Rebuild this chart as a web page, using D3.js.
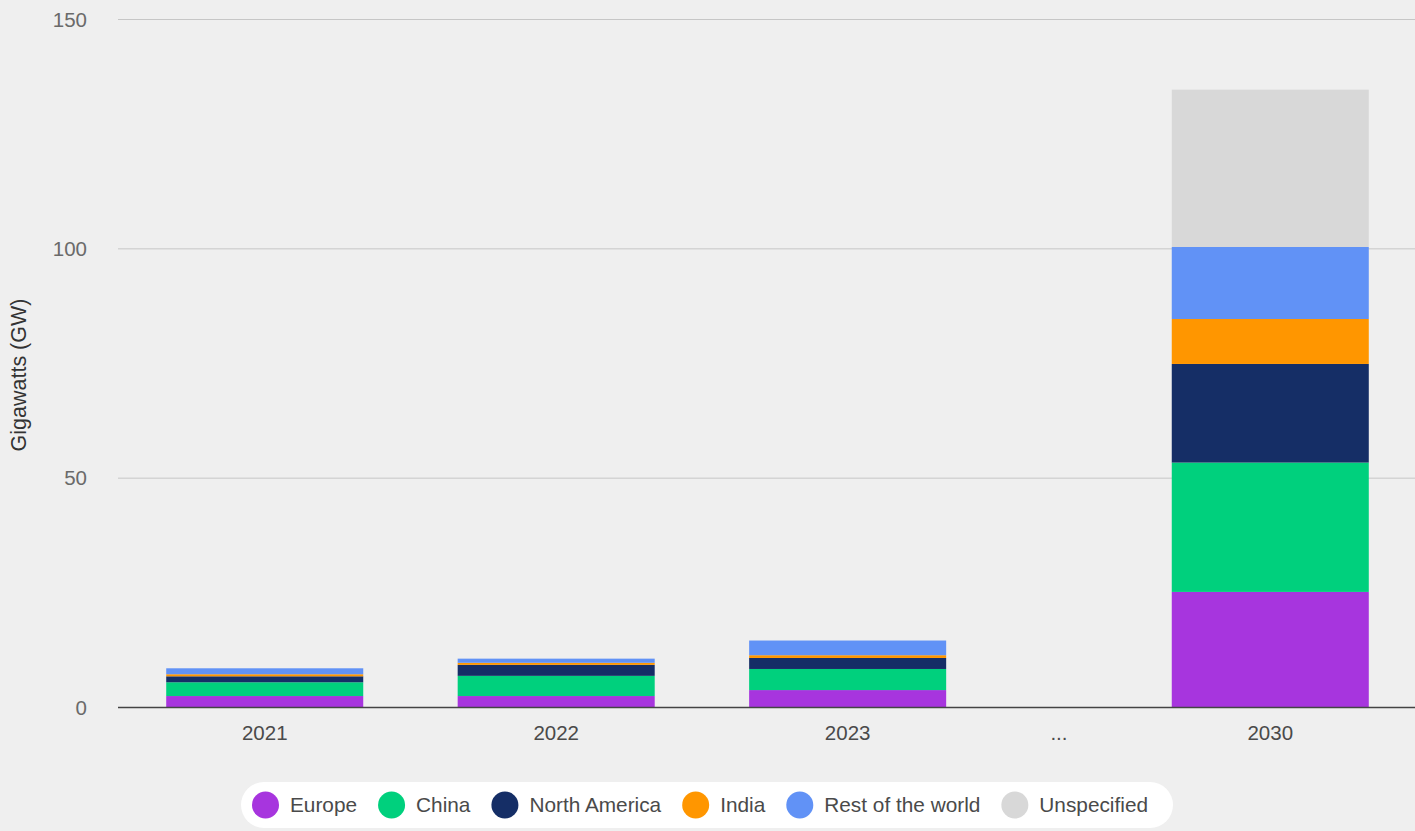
<!DOCTYPE html>
<html lang="en">
<head>
<meta charset="UTF-8">
<title>Installed capacity by region</title>
<script src="https://cdn.jsdelivr.net/npm/d3@7"></script>
<style>
    body { margin: 0; background: #efefef; }
    svg { display: block; font-family: "Liberation Sans", Arial, sans-serif; }
    .grid line { stroke: #c6c6c6; stroke-width: 1; }
    .tick-y { fill: #6a6a6a; font-size: 20.5px; }
    .tick-x { fill: #4a4a4a; font-size: 20.5px; }
    .legend text { fill: #4a4a4a; font-size: 20.8px; }
</style>
</head>
<body>
<svg id="chart" width="1415" height="831"></svg>
<script>

// data (GW)
var years = ["2021", "2022", "2023", "...", "2030"];
var yearWeight = [1, 1, 1, 0.45, 1]; // the "..." slot is narrower
var regions = ["Europe", "China", "North America", "India", "Rest of the world", "Unspecified"];
var colours = ["#a735de", "#00d07d", "#152e66", "#ff9600", "#6192f6", "#d8d8d8"];

var europe      = [2.5, 2.5, 3.8, 0, 25.2];
var china       = [3.0, 4.4, 4.6, 0, 28.2];
var northAm     = [1.3, 2.4, 2.4, 0, 21.5];
var india       = [0.45, 0.45, 0.6, 0, 9.8];
var restOfWorld = [1.3, 0.9, 3.2, 0, 15.7];
var unspecified = [0, 0, 0, 0, 34.3];

var yTicks = [0, 50, 100, 150];

var series = [europe, china, northAm, india, restOfWorld, unspecified];

var svg = d3.select("#chart"),
    margin = {top: 19.5, right: 0, bottom: 123.5, left: 118},
    width = +svg.attr("width") - margin.left - margin.right,
    height = +svg.attr("height") - margin.top - margin.bottom;

var g = svg.append("g").attr("transform", "translate(" + margin.left + "," + margin.top + ")");

// rows for the stack
var rows = years.map(function(yr, i) {
    var r = {year: yr};
    regions.forEach(function(k, j) { r[k] = series[j][i]; });
    return r;
});

// weighted band positions: cumulative weights on a linear scale
var cum = [0];
yearWeight.forEach(function(w, i) { cum.push(cum[i] + w); });
var xw = d3.scaleLinear().domain([0, cum[cum.length - 1]]).range([0, width]);
var barFrac = 0.676;
function bandLeft(i) { return xw(cum[i] + (1 - barFrac) / 2) + 1; }
function bandCenter(i) { return xw(cum[i] + yearWeight[i] / 2) + 1; }
var bw = xw(barFrac) - xw(0);

var y = d3.scaleLinear().domain([0, 150]).range([height, 0]);
var z = d3.scaleOrdinal().domain(regions).range(colours);

// gridlines
g.append("g").attr("class", "grid")
    .selectAll("line")
    .data(yTicks.filter(function(d) { return d > 0; }))
    .enter().append("line")
    .attr("x1", 0).attr("x2", width)
    .attr("y1", function(d) { return y(d); })
    .attr("y2", function(d) { return y(d); });

// y tick labels
g.selectAll(".tick-y")
    .data(yTicks)
    .enter().append("text")
    .attr("class", "tick-y")
    .attr("x", -31)
    .attr("y", function(d) { return y(d); })
    .attr("dy", "0.35em")
    .attr("text-anchor", "end")
    .text(function(d) { return d; });

// stacked bars
var stack = d3.stack().keys(regions);
g.selectAll(".serie")
    .data(stack(rows))
    .enter().append("g")
    .attr("class", "serie")
    .attr("fill", function(d) { return z(d.key); })
    .selectAll("rect")
    .data(function(d) { return d.map(function(p, i) { p.idx = i; return p; }); })
    .enter().append("rect")
    .filter(function(d) { return d[1] - d[0] > 0; })
    .attr("x", function(d) { return bandLeft(d.idx); })
    .attr("width", bw)
    .attr("y", function(d) { return y(d[1]); })
    .attr("height", function(d) { return y(d[0]) - y(d[1]); });

// baseline
g.append("line")
    .attr("x1", 0).attr("x2", width)
    .attr("y1", y(0)).attr("y2", y(0))
    .attr("stroke", "#444").attr("stroke-width", 1.5);

// x labels
g.selectAll(".tick-x")
    .data(years)
    .enter().append("text")
    .attr("class", "tick-x")
    .attr("x", function(d, i) { return bandCenter(i); })
    .attr("y", y(0) + 25)
    .attr("dy", "0.35em")
    .attr("text-anchor", "middle")
    .text(function(d) { return d; });

// y axis title
svg.append("text")
    .attr("transform", "translate(26," + 375 + ") rotate(-90)")
    .attr("text-anchor", "middle")
    .attr("fill", "#333")
    .style("font-size", "21.5px")
    .text("Gigawatts (GW)");

// legend
var legend = svg.append("g").attr("class", "legend");
var pill = legend.append("rect")
    .attr("fill", "#fff")
    .attr("y", 782).attr("height", 46)
    .attr("rx", 23).attr("ry", 23);

var items = legend.selectAll(".item")
    .data(regions)
    .enter().append("g")
    .attr("class", "item");
items.append("circle")
    .attr("r", 13.5)
    .attr("cy", 805)
    .attr("fill", function(d) { return z(d); });
items.append("text")
    .attr("y", 805)
    .attr("dy", "0.35em")
    .text(function(d) { return d; });

var cursor = 0;
items.each(function() {
    var it = d3.select(this);
    var tw = it.select("text").node().getComputedTextLength();
    it.select("circle").attr("cx", cursor + 13.5);
    it.select("text").attr("x", cursor + 38);
    cursor += 38 + tw + 21;
});
var total = cursor - 21;
var legendLeft = 252;
items.attr("transform", "translate(" + legendLeft + ",0)");
pill.attr("x", legendLeft - 11).attr("width", total + 11 + 25);

</script>
</body>
</html>
